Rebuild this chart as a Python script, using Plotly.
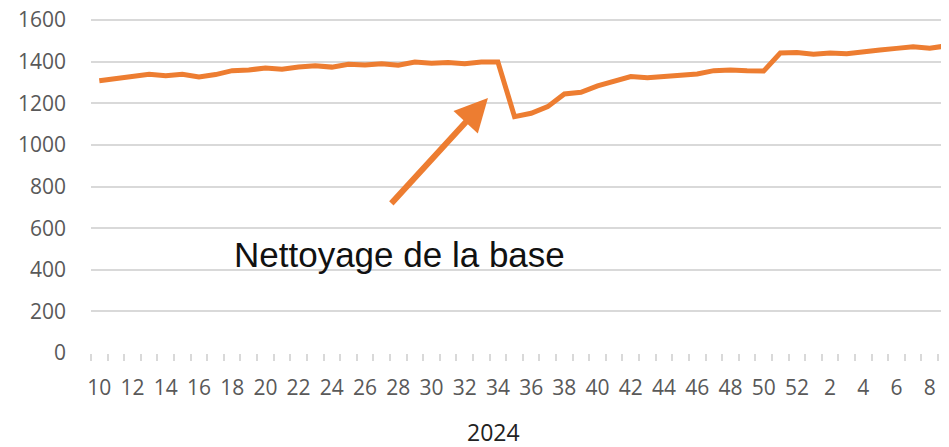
import plotly.graph_objects as go

# Week categories (2024 weeks 10..52, then weeks 1..9)
weeks = [10, 11, 12, 13, 14, 15, 16, 17, 18, 19, 20, 21, 22, 23, 24, 25, 26, 27, 28, 29,
         30, 31, 32, 33, 34, 35, 36, 37, 38, 39, 40, 41, 42, 43, 44, 45, 46, 47, 48, 49,
         50, 51, 52, 1, 2, 3, 4, 5, 6, 7, 8, 9]
values = [1308, 1318, 1328, 1340, 1332, 1340, 1327, 1338, 1357, 1360,
          1370, 1364, 1374, 1380, 1374, 1388, 1384, 1390, 1383, 1398,
          1393, 1396, 1390, 1398, 1398, 1136, 1152, 1184, 1245, 1253,
          1284, 1309, 1329, 1323, 1329, 1336, 1341, 1357, 1360, 1356,
          1355, 1442, 1444, 1436, 1442, 1438, 1450, 1456, 1464, 1472,
          1465, 1476]
y_ticks = [0, 200, 400, 600, 800, 1000, 1200, 1400, 1600]
year_label = "2024"
note_text = "Nettoyage de la base"

idx = list(range(len(weeks)))
label_idx = [i for i in idx if i % 2 == 0]
label_txt = [str(weeks[i]) for i in label_idx]
minor_vals = [i - 0.5 for i in range(len(weeks) + 1)]

ORANGE = "#ED7D31"
GRID = "#D9D9D9"

fig = go.Figure()
fig.add_trace(go.Scatter(x=idx, y=values, mode="lines",
                         line=dict(color=ORANGE, width=5), hoverinfo="skip"))

fig.update_layout(
    width=949, height=447,
    margin=dict(l=83, r=0, t=10, b=102, autoexpand=False),
    paper_bgcolor="white", plot_bgcolor="white",
    showlegend=False,
    font=dict(family="Open Sans", size=21, color="#595959"),
)
fig.update_yaxes(range=[0, 1610], tickvals=y_ticks, showgrid=True,
                 gridcolor=GRID, gridwidth=1.5, zeroline=False, showline=False,
                 ticks="", ticklabelstandoff=24, automargin=False,
                 ticklabeloverflow="allow",
                 tickfont=dict(family="Open Sans", size=21, color="#595959"))
fig.update_xaxes(range=[-0.5, 51.64], tickmode="array", tickvals=label_idx,
                 ticktext=label_txt, showgrid=False, zeroline=False,
                 showline=False, ticks="", ticklabelstandoff=20, automargin=False,
                 ticklabeloverflow="allow",
                 tickfont=dict(family="Open Sans", size=21, color="#595959"),
                 minor=dict(tickmode="array", tickvals=minor_vals, ticks="outside",
                            ticklen=7, tickwidth=1.5, tickcolor=GRID, showgrid=False))

fig.add_annotation(x=23.4, y=1226, ax=17.5, ay=712, xref="x", yref="y",
                   axref="x", ayref="y", text="", showarrow=True,
                   arrowhead=2, arrowsize=1.1, arrowwidth=6, arrowcolor=ORANGE)
fig.add_annotation(x=18.1, y=475, xref="x", yref="y", text=note_text,
                   showarrow=False, xanchor="center", yanchor="middle",
                   font=dict(family="Liberation Sans", size=35, color="#111111"))
fig.add_annotation(x=(493 - 91) / 866, y=-0.235, xref="paper", yref="paper",
                   text=year_label, showarrow=False, xanchor="center", yanchor="middle",
                   font=dict(family="Open Sans", size=23, color="#222222"))

fig.write_html("out.html")
